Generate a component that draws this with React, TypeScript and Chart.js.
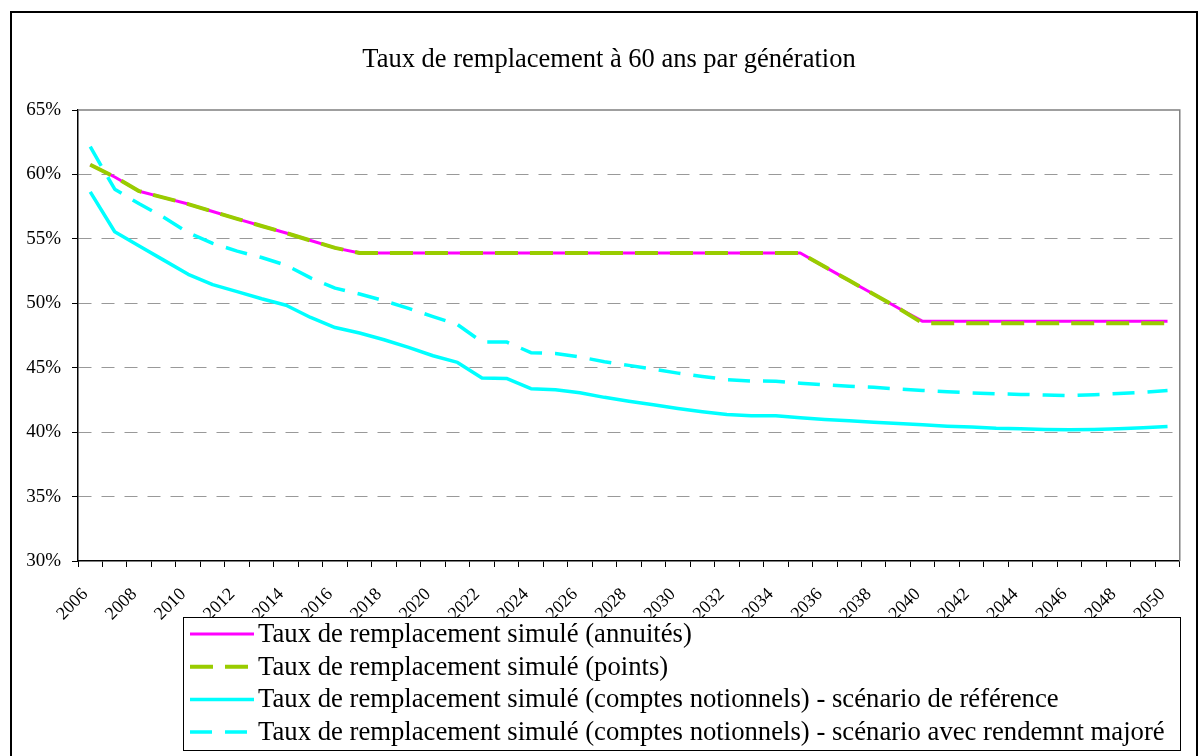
import React, { useEffect, useRef } from 'react';
import { Chart, registerables } from 'chart.js';

Chart.register(...registerables);

const TITLE = 'Taux de remplacement à 60 ans par génération';

const YEARS = [
  2006, 2007, 2008, 2009, 2010, 2011, 2012, 2013, 2014, 2015,
  2016, 2017, 2018, 2019, 2020, 2021, 2022, 2023, 2024, 2025,
  2026, 2027, 2028, 2029, 2030, 2031, 2032, 2033, 2034, 2035,
  2036, 2037, 2038, 2039, 2040, 2041, 2042, 2043, 2044, 2045,
  2046, 2047, 2048, 2049, 2050,
];

const SERIES_LABELS = [
  'Taux de remplacement simulé (annuités)',
  'Taux de remplacement simulé (points)',
  'Taux de remplacement simulé (comptes notionnels) - scénario de référence',
  'Taux de remplacement simulé (comptes notionnels) - scénario avec rendemnt majoré',
];

const ANNUITES = [
  60.75, 59.8, 58.7, 58.2, 57.7, 57.12, 56.55, 56.0, 55.45, 54.87,
  54.3, 53.9, 53.9, 53.9, 53.9, 53.9, 53.9, 53.9, 53.9, 53.9,
  53.9, 53.9, 53.9, 53.9, 53.9, 53.9, 53.9, 53.9, 53.9, 53.9,
  52.83, 51.76, 50.7, 49.63, 48.6, 48.6, 48.6, 48.6, 48.6, 48.6,
  48.6, 48.6, 48.6, 48.6, 48.6,
];

const POINTS = [
  60.75, 59.8, 58.7, 58.2, 57.7, 57.12, 56.55, 56.0, 55.45, 54.87,
  54.3, 53.9, 53.9, 53.9, 53.9, 53.9, 53.9, 53.9, 53.9, 53.9,
  53.9, 53.9, 53.9, 53.9, 53.9, 53.9, 53.9, 53.9, 53.9, 53.9,
  52.83, 51.76, 50.7, 49.63, 48.45, 48.45, 48.45, 48.45, 48.45, 48.45,
  48.45, 48.45, 48.45, 48.45, 48.45,
];

const NOTIONNELS_REFERENCE = [
  58.65, 55.55, 54.45, 53.35, 52.25, 51.45, 50.9, 50.35, 49.85, 48.9,
  48.12, 47.69, 47.17, 46.58, 45.93, 45.41, 44.2, 44.17, 43.37, 43.29,
  43.05, 42.7, 42.4, 42.12, 41.83, 41.58, 41.37, 41.27, 41.27, 41.11,
  40.98, 40.88, 40.77, 40.67, 40.57, 40.46, 40.39, 40.3, 40.26, 40.21,
  40.18, 40.21, 40.26, 40.34, 40.44,
];

const NOTIONNELS_MAJORE = [
  62.15, 58.85, 57.72, 56.68, 55.48, 54.65, 54.05, 53.55, 52.95, 51.97,
  51.18, 50.72, 50.2, 49.6, 48.97, 48.35, 47.0, 47.0, 46.17, 46.1,
  45.83, 45.47, 45.18, 44.88, 44.58, 44.32, 44.08, 43.97, 43.95, 43.8,
  43.68, 43.57, 43.48, 43.35, 43.23, 43.14, 43.05, 42.98, 42.93, 42.88,
  42.83, 42.91, 43.0, 43.1, 43.23,
];

const Y_MIN = 30;
const Y_MAX = 65;
const Y_STEP = 5;

const SERIF = "'Times New Roman', 'Liberation Serif', serif";

const decorPlugin = {
  id: 'decor',
  beforeDatasetsDraw(chart: any) {
    const { ctx, chartArea: a } = chart;
    ctx.save();
    ctx.strokeStyle = '#808080';
    ctx.lineWidth = 1.5;
    ctx.beginPath();
    ctx.moveTo(a.left, a.top);
    ctx.lineTo(a.right, a.top);
    ctx.lineTo(a.right, a.bottom);
    ctx.stroke();
    ctx.restore();
  },
  afterDraw(chart: any) {
    const { ctx } = chart;
    ctx.save();
    // title
    ctx.fillStyle = '#000';
    ctx.font = `26.5px ${SERIF}`;
    ctx.textAlign = 'center';
    ctx.textBaseline = 'alphabetic';
    ctx.fillText(TITLE, 609, 67);

    // legend
    const lx = 183;
    const ly = 617;
    const lw = 997;
    const lh = 133;
    ctx.fillStyle = '#fff';
    ctx.fillRect(lx, ly, lw, lh);
    ctx.strokeStyle = '#000';
    ctx.lineWidth = 1;
    ctx.strokeRect(lx + 0.5, ly + 0.5, lw, lh);
    chart.data.datasets.forEach((ds: any, i: number) => {
      const cy = 634 + i * 32.7;
      ctx.save();
      ctx.strokeStyle = ds.borderColor;
      ctx.lineWidth = ds.borderWidth;
      ctx.setLineDash(ds.borderDash || []);
      ctx.beginPath();
      ctx.moveTo(190, cy);
      ctx.lineTo(254, cy);
      ctx.stroke();
      ctx.restore();
      ctx.fillStyle = '#000';
      ctx.font = `26.7px ${SERIF}`;
      ctx.textAlign = 'left';
      ctx.textBaseline = 'middle';
      ctx.fillText(ds.label, 258, cy + 1);
    });

    // outer frame
    ctx.strokeStyle = '#000';
    ctx.lineWidth = 2;
    ctx.strokeRect(11, 12, 1186, 760);
    ctx.restore();
  },
};

export default function App() {
  const ref = useRef<HTMLCanvasElement>(null);

  useEffect(() => {
    const canvas = ref.current;
    if (!canvas) return;
    const common = {
      pointRadius: 0,
      pointHoverRadius: 0,
      tension: 0,
      fill: false,
      borderJoinStyle: 'round' as const,
    };
    const chart = new Chart(canvas, {
      type: 'line',
      data: {
        labels: YEARS.map(String),
        datasets: [
          { ...common, label: SERIES_LABELS[0], data: ANNUITES, borderColor: '#FF00FF', borderWidth: 3, order: 1 },
          { ...common, label: SERIES_LABELS[1], data: POINTS, borderColor: '#99CC00', borderWidth: 4, borderDash: [23, 12], order: 0 },
          { ...common, label: SERIES_LABELS[2], data: NOTIONNELS_REFERENCE, borderColor: '#00FFFF', borderWidth: 3.5, order: 0 },
          { ...common, label: SERIES_LABELS[3], data: NOTIONNELS_MAJORE, borderColor: '#00FFFF', borderWidth: 3.5, borderDash: [22, 13], order: 0 },
        ],
      },
      options: {
        responsive: false,
        maintainAspectRatio: false,
        devicePixelRatio: 1,
        animation: false,
        layout: { padding: { top: 110, right: 17, left: 0, bottom: 0 } },
        plugins: {
          legend: { display: false },
          title: { display: false },
          tooltip: { enabled: false },
        },
        scales: {
          x: {
            type: 'category',
            offset: true,
            grid: {
              display: true,
              drawOnChartArea: false,
              drawTicks: true,
              tickLength: 6,
              tickColor: '#000',
              color: '#000',
              offset: true,
            },
            border: { display: true, color: '#000', width: 1.5 },
            ticks: {
              autoSkip: false,
              minRotation: 45,
              maxRotation: 45,
              padding: 17,
              labelOffset: -5,
              color: '#000',
              font: { family: SERIF, size: 18 },
              callback: (_v: any, index: number) => {
                const y = YEARS[index];
                return y % 2 === 0 ? String(y) : '';
              },
            },
            afterFit: (s: any) => {
              s.height = 195;
            },
          },
          y: {
            min: Y_MIN,
            max: Y_MAX,
            ticks: {
              stepSize: Y_STEP,
              color: '#000',
              padding: 11,
              font: { family: SERIF, size: 19 },
              callback: (v: any) => `${v}%`,
            },
            grid: {
              color: (c: any) =>
                c.tick && (c.tick.value === Y_MIN || c.tick.value === Y_MAX) ? 'rgba(0,0,0,0)' : '#999999',
              lineWidth: 1,
              drawTicks: true,
              tickLength: 6,
              tickColor: '#000',
            },
            border: { display: true, color: '#000', width: 1.5, dash: [13, 10] },
            afterFit: (s: any) => {
              s.width = 78;
            },
          },
        },
      },
      plugins: [decorPlugin],
    } as any);
    return () => chart.destroy();
  }, []);

  return (
    <div style={{ position: 'fixed', left: 0, top: 0, width: 1200, height: 756, background: '#fff' }}>
      <canvas ref={ref} width={1200} height={756} style={{ display: 'block', width: 1200, height: 756 }} />
    </div>
  );
}
